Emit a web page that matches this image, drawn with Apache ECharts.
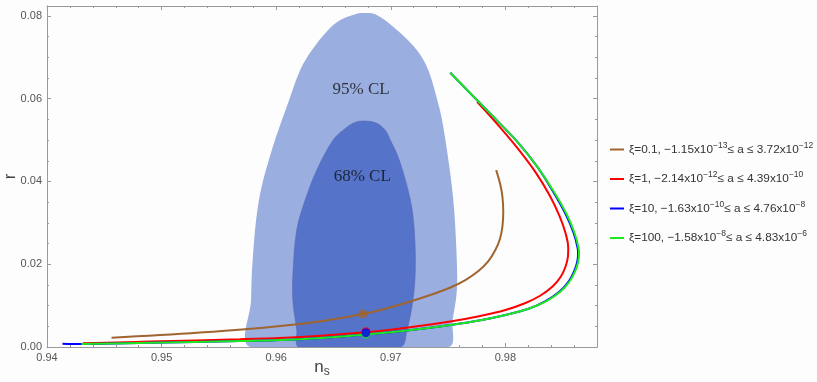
<!DOCTYPE html>
<html>
<head>
<meta charset="utf-8">
<script src="https://cdn.jsdelivr.net/npm/echarts@6/dist/echarts.min.js"></script>
<style>
  html, body { margin: 0; padding: 0; background: #fdfdfd; }
  #main { width: 817px; height: 382px; }
</style>
</head>
<body>
<div id="main"></div>
<script>
// Planck contours, points are [n_s, r]
var contour95 = [
  [0.95778, 0.0], [0.95781, 0.0114], [0.95795, 0.0210], [0.95850, 0.0355], [0.95962, 0.0476],
  [0.96113, 0.0597], [0.96209, 0.0669], [0.96311, 0.0717], [0.96454, 0.0766], [0.96559, 0.0790],
  [0.96690, 0.0804], [0.96751, 0.0807], [0.96865, 0.0804], [0.97054, 0.0766], [0.97229, 0.0717],
  [0.97328, 0.0669], [0.97406, 0.0597], [0.97448, 0.0548], [0.97503, 0.0452], [0.97546, 0.0355],
  [0.97573, 0.0234], [0.97577, 0.0138], [0.97540, 0.0065], [0.97503, 0.0]
];
var contour68 = [
  [0.96200, 0.0], [0.96180, 0.0041], [0.96145, 0.0114], [0.96148, 0.0186], [0.96180, 0.0283],
  [0.96253, 0.0355], [0.96355, 0.0428], [0.96497, 0.0500], [0.96585, 0.0524], [0.96690, 0.0543],
  [0.96777, 0.0546], [0.96873, 0.0541], [0.96952, 0.0524], [0.96996, 0.0500], [0.97074, 0.0452],
  [0.97171, 0.0355], [0.97205, 0.0283], [0.97214, 0.0186], [0.97194, 0.0114], [0.97142, 0.0041],
  [0.97083, 0.0]
];
var clLabels = [[0.96742, 0.0623, '95% CL'], [0.96751, 0.0411, '68% CL']];

// model curves
var curveXi01 = [
  [0.94563, 0.00225], [0.95335, 0.0035], [0.96209, 0.00556], [0.96757, 0.00797], [0.97083, 0.01027],
  [0.97345, 0.01256], [0.97520, 0.01437], [0.97651, 0.01618], [0.97765, 0.01836], [0.97852, 0.02077],
  [0.97913, 0.02343], [0.97953, 0.02609], [0.97975, 0.02923], [0.97982, 0.03261], [0.97975, 0.03623],
  [0.97955, 0.03937], [0.97920, 0.04275]
];
var curveXi1 = [
  [0.94312, 0.00089], [0.94898, 0.0013], [0.95684, 0.00188], [0.96209, 0.00242], [0.96783, 0.00355],
  [0.97199, 0.00488], [0.97520, 0.00616], [0.97782, 0.00749], [0.98001, 0.00894], [0.98176, 0.01063],
  [0.98307, 0.01244], [0.98412, 0.01461], [0.98482, 0.01691], [0.98525, 0.0194], [0.98547, 0.02198],
  [0.98549, 0.02391], [0.98525, 0.02754], [0.98473, 0.03164], [0.98385, 0.03671], [0.98263, 0.04227],
  [0.98106, 0.04807], [0.97928, 0.05391], [0.97754, 0.05925]
];
var curveXi10 = [
  [0.94135, 0.0008], [0.94301, 0.00072], [0.94898, 0.00101], [0.95684, 0.00145], [0.96209, 0.00188],
  [0.96783, 0.0030], [0.97199, 0.00415], [0.97520, 0.00531], [0.97782, 0.00645], [0.98001, 0.00773],
  [0.98202, 0.00923], [0.98351, 0.01111], [0.98474, 0.01341], [0.98552, 0.01582], [0.98605, 0.0186],
  [0.98627, 0.02053], [0.98635, 0.02246], [0.98631, 0.02391], [0.98596, 0.02754], [0.98526, 0.03213],
  [0.98414, 0.03768], [0.98281, 0.04348], [0.98115, 0.04928], [0.97928, 0.05471], [0.97724, 0.06046],
  [0.97520, 0.06626]
];
var curveXi100 = [
  [0.94301, 0.00072], [0.94898, 0.00101], [0.95684, 0.00145], [0.96209, 0.00188], [0.96783, 0.0030],
  [0.97199, 0.00415], [0.97520, 0.00531], [0.97782, 0.00645], [0.98001, 0.00773], [0.98202, 0.00923],
  [0.98359, 0.01111], [0.98482, 0.01341], [0.98560, 0.01582], [0.98613, 0.0186], [0.98635, 0.02053],
  [0.98643, 0.02246], [0.98639, 0.02391], [0.98604, 0.02754], [0.98534, 0.03213], [0.98420, 0.03768],
  [0.98281, 0.04348], [0.98115, 0.04928], [0.97928, 0.05471], [0.97724, 0.06046], [0.97520, 0.06626]
];
var dotXi01 = [0.96757, 0.0080];
var dotXi1 = [0.96783, 0.0037];
var dotXi10 = [0.96783, 0.00345];
var dotXi100 = [0.96783, 0.0031];

var seriesNames = ['xi01', 'xi1', 'xi10', 'xi100'];
var legendTexts = [
  'ξ=0.1, −1.15x10{sup|−13}≤ a ≤ 3.72x10{sup|−12}',
  'ξ=1, −2.14x10{sup|−12}≤ a ≤ 4.39x10{sup|−10}',
  'ξ=10, −1.63x10{sup|−10}≤ a ≤ 4.76x10{sup|−8}',
  'ξ=100, −1.58x10{sup|−8}≤ a ≤ 4.83x10{sup|−6}'
];
var colors = ['#a0642e', '#ff0000', '#0000ff', '#1ee81e'];

var chart = echarts.init(document.getElementById('main'));

function polygonSeries(points, fill, stroke) {
  return {
    type: 'custom',
    silent: true,
    clip: true,
    data: [0],
    renderItem: function (params, api) {
      return {
        type: 'polygon',
        shape: { points: points.map(function (p) { return api.coord(p); }), smooth: 0.35 },
        style: { fill: fill, stroke: stroke, lineWidth: stroke ? 0.6 : 0 }
      };
    }
  };
}

function curveSeries(i, data) {
  return {
    name: seriesNames[i],
    type: 'line',
    data: data,
    smooth: 0.4,
    showSymbol: false,
    lineStyle: { color: colors[i], width: 2 },
    itemStyle: { color: colors[i] },
    z: 3
  };
}

function dotSeries(i, p) {
  return {
    type: 'scatter',
    data: [p],
    symbolSize: 9,
    itemStyle: { color: colors[i] },
    z: 4
  };
}

var tickColor = '#9a9a9a';
var labelStyle = { fontFamily: 'Liberation Sans', fontSize: 11, color: '#555' };

function xAxisOpt(pos, labels) {
  return {
    type: 'value', position: pos, min: 0.94, max: 0.988, interval: 0.01,
    axisLine: { show: true, onZero: false, lineStyle: { color: tickColor, width: 1 } },
    axisTick: { show: true, inside: true, length: 4, lineStyle: { color: tickColor } },
    minorTick: { show: true, splitNumber: 5, length: 2, lineStyle: { color: tickColor } },
    splitLine: { show: false },
    axisLabel: Object.assign({ show: labels, showMaxLabel: false, margin: 5,
      formatter: function (v) { return v.toFixed(2); } }, labelStyle)
  };
}
function yAxisOpt(pos, labels) {
  return {
    type: 'value', position: pos, min: 0, max: 0.0824, interval: 0.02,
    axisLine: { show: true, onZero: false, lineStyle: { color: tickColor, width: 1 } },
    axisTick: { show: true, inside: true, length: 4, lineStyle: { color: tickColor } },
    minorTick: { show: true, splitNumber: 4, length: 2, lineStyle: { color: tickColor } },
    splitLine: { show: false },
    axisLabel: Object.assign({ show: labels, showMaxLabel: false, margin: 5,
      formatter: function (v) { return v.toFixed(2); } }, labelStyle)
  };
}

var xBottom = xAxisOpt('bottom', true);
xBottom.name = '{n|n}{s|s}';
xBottom.nameLocation = 'middle';
xBottom.nameGap = 9;
xBottom.nameMoveOverlap = false;
xBottom.nameTextStyle = {
  rich: {
    n: { fontFamily: 'Liberation Sans', fontSize: 17, color: '#444' },
    s: { fontFamily: 'Liberation Sans', fontSize: 12, color: '#444', padding: [10, 0, 0, 0] }
  }
};
var yLeft = yAxisOpt('left', true);
yLeft.name = 'r';
yLeft.nameLocation = 'middle';
yLeft.nameGap = 28;
yLeft.nameRotate = 90;
yLeft.nameMoveOverlap = false;
yLeft.nameTextStyle = { fontFamily: 'Liberation Sans', fontSize: 17, color: '#444' };

var series = [
  polygonSeries(contour95, '#9aaee0', null),
  polygonSeries(contour68, '#5473c9', '#5a68b8'),
  {
    type: 'scatter',
    data: clLabels,
    symbolSize: 0,
    silent: true,
    label: {
      show: true, position: 'inside',
      formatter: function (p) { return p.data[2]; },
      fontFamily: 'Liberation Serif', fontSize: 17, color: '#111'
    },
    z: 5
  },
  curveSeries(0, curveXi01),
  curveSeries(1, curveXi1),
  curveSeries(2, curveXi10),
  curveSeries(3, curveXi100),
  dotSeries(0, dotXi01),
  dotSeries(1, dotXi1),
  dotSeries(3, dotXi100),
  dotSeries(2, dotXi10)
];

chart.setOption({
  backgroundColor: '#fdfdfd',
  animation: false,
  grid: { left: 47, right: 220, top: 6, bottom: 35, containLabel: false, outerBoundsMode: 'none' },
  xAxis: [xBottom, xAxisOpt('top', false)],
  yAxis: [yLeft, yAxisOpt('right', false)],
  legend: {
    orient: 'vertical',
    left: 605,
    top: 136,
    itemGap: 15,
    itemWidth: 14,
    itemHeight: 2,
    icon: 'rect',
    data: seriesNames,
    formatter: function (name) { return legendTexts[seriesNames.indexOf(name)]; },
    textStyle: {
      fontFamily: 'Liberation Sans', fontSize: 11.8, color: '#333',
      rich: {
        sup: { fontFamily: 'Liberation Sans', fontSize: 8.5, color: '#333', padding: [0, 0, 8, 0] }
      }
    }
  },
  series: series
});
</script>
</body>
</html>
